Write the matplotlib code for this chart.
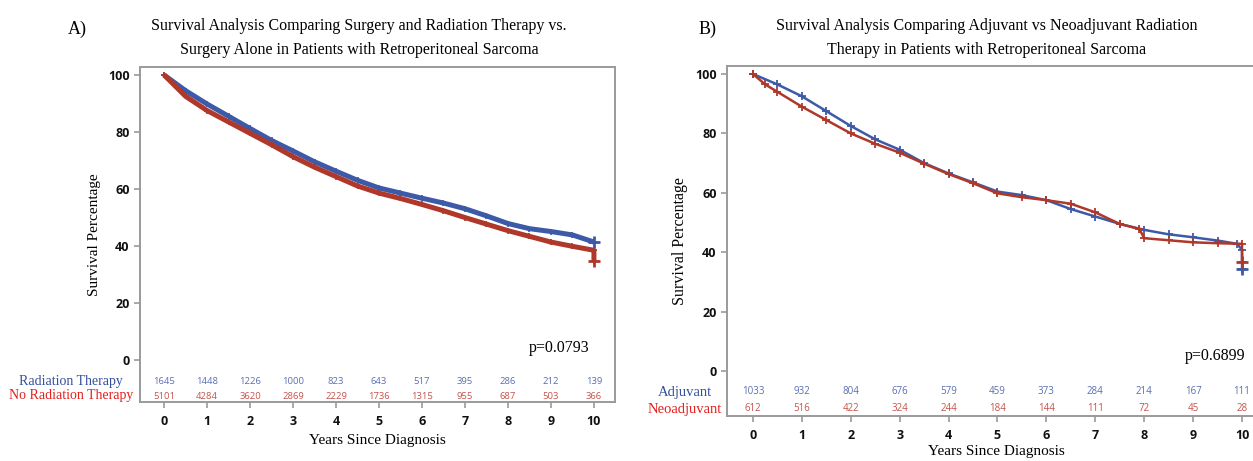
"""Kaplan-Meier curves for retroperitoneal sarcoma (two panels)."""

import matplotlib
matplotlib.use("Agg")
import matplotlib.pyplot as plt  # noqa: E402

W, H = 1253, 461

# ---- panel A data ----
years_a = [0, 0.5, 1, 1.5, 2, 2.5, 3, 3.5, 4, 4.5, 5, 5.5, 6, 6.5, 7, 7.5,
           8, 8.5, 9, 9.5, 10]
surv_rt = [100, 94.5, 89.8, 85.5, 81.2, 77.0, 73.3, 69.5, 66.2, 63.0, 60.3,
           58.5, 56.7, 55.0, 53.0, 50.5, 47.8, 46.0, 45.0, 43.8, 41.3]
surv_no_rt = [100, 92.5, 87.5, 83.5, 79.5, 75.5, 71.3, 67.6, 64.3, 61.0,
              58.5, 56.6, 54.5, 52.3, 49.9, 47.6, 45.3, 43.3, 41.3, 39.8, 38.4]
end_no_rt = 34.5
risk_rt = [1645, 1448, 1226, 1000, 823, 643, 517, 395, 286, 212, 139]
risk_no_rt = [5101, 4284, 3620, 2869, 2229, 1736, 1315, 955, 687, 503, 366]

# ---- panel B data ----
years_adj = [0, 0.5, 1, 1.5, 2, 2.5, 3, 3.5, 4, 4.5, 5, 5.5, 6, 6.5, 7, 7.5,
             8, 8.5, 9, 9.5, 9.9, 10]
surv_adj = [100, 96.5, 92.5, 87.5, 82.5, 78.0, 74.5, 70.0, 66.5, 63.5, 60.4,
            59.2, 57.5, 54.5, 52.0, 49.5, 47.5, 46.0, 45.0, 43.9, 42.8, 40.7]
end_adj = 34.2
years_neo = [0, 0.25, 0.5, 1, 1.5, 2, 2.5, 3, 3.5, 4, 4.5, 5, 5.5, 6, 6.5, 7,
             7.5, 7.9, 8, 8.5, 9, 9.5, 10]
surv_neo = [100, 96.5, 94.0, 89.0, 84.5, 80.0, 76.5, 73.5, 69.8, 66.3, 63.2,
            59.8, 58.5, 57.5, 56.3, 53.4, 49.5, 47.8, 44.7, 44.0, 43.3, 43.0,
            42.8]
end_neo = 36.8
risk_adj = [1033, 932, 804, 676, 579, 459, 373, 284, 214, 167, 111]
risk_neo = [612, 516, 422, 324, 244, 184, 144, 111, 72, 45, 28]

ticks_x = list(range(11))
ticks_y = [0, 20, 40, 60, 80, 100]

BLUE = "#3d5aa8"
RED = "#b0382a"
BLUE_NUM = "#5b6fb2"
RED_NUM = "#c4544c"
BLUE_LBL = "#34509c"
RED_LBL = "#e3201c"
FRAME = "#9a9a9a"
SERIF = "Liberation Serif"
SANS = "Open Sans"


def fx(px):
    return px / W


def fy(py):
    return 1 - py / H


def add_axes(left, top, right, bottom):
    return fig.add_axes([fx(left), fy(bottom), (right - left) / W,
                         (bottom - top) / H])


def style_axes(ax, xlim, ylim):
    ax.set_xlim(*xlim)
    ax.set_ylim(*ylim)
    ax.set_xticks(ticks_x)
    ax.set_yticks(ticks_y)
    for sp in ax.spines.values():
        sp.set_color(FRAME)
        sp.set_linewidth(1.4)
    ax.tick_params(axis="both", color=FRAME, width=1.2, length=4.5,
                   labelsize=9, labelcolor="#111111")
    ax.tick_params(axis="x", pad=5)
    ax.tick_params(axis="y", pad=3)
    for lab in ax.get_xticklabels() + ax.get_yticklabels():
        lab.set_fontfamily(SANS)
        lab.set_fontweight("bold")


def draw_curve(ax, t, s, end, color, lw, ms, mew):
    ax.plot(t + [t[-1]], s + [end], color=color, lw=lw, solid_capstyle="butt",
            marker="+", markersize=ms, markeredgewidth=mew, zorder=3)
    ax.plot([t[-1]], [end], marker="+", color=color, markersize=9,
            markeredgewidth=2, zorder=4)


def risk_table(ax, rows, ys, size):
    for counts, yv, col in zip(rows, ys, [BLUE_NUM, RED_NUM]):
        for xv, n in zip(ticks_x, counts):
            ax.text(xv, yv, str(n), ha="center", va="center", fontsize=size,
                    color=col, family=SANS)


fig = plt.figure(figsize=(W / 100, H / 100), dpi=100)

# ---------------- panel A ----------------
ax_a = add_axes(140, 67, 615, 402)
style_axes(ax_a, (-0.56, 10.49), (-14.9, 102.8))
draw_curve(ax_a, years_a, surv_rt, surv_rt[-1], BLUE, 3.6, 4, 1.2)
draw_curve(ax_a, years_a, surv_no_rt, end_no_rt, RED, 3.6, 4, 1.2)
risk_table(ax_a, [risk_rt, risk_no_rt], [-7.7, -13.0], 6.8)
ax_a.text(9.2, 4.2, "p=0.0793", ha="center", va="center", fontsize=11.5,
          family=SERIF)
ax_a.set_ylabel("Survival Percentage", family=SERIF, fontsize=11, labelpad=5)
ax_a.set_xlabel("Years Since Diagnosis", family=SERIF, fontsize=11,
                labelpad=4)
fig.text(fx(71), fy(381), "Radiation Therapy", ha="center", va="center",
         family=SERIF, fontsize=10, color=BLUE_LBL)
fig.text(fx(71), fy(396), "No Radiation Therapy", ha="center", va="center",
         family=SERIF, fontsize=10, color=RED_LBL)
fig.text(fx(68), fy(29), "A)", ha="left", va="center", family=SERIF,
         fontsize=13)
fig.text(fx(359), fy(26), "Survival Analysis Comparing Surgery and Radiation "
         "Therapy vs.", ha="center", va="center", family=SERIF, fontsize=11.5)
fig.text(fx(359), fy(50), "Surgery Alone in Patients with Retroperitoneal "
         "Sarcoma", ha="center", va="center", family=SERIF, fontsize=11.5)

# ---------------- panel B ----------------
ax_b = add_axes(727, 66, 1266, 416)
style_axes(ax_b, (-0.53, 10.49), (-15.2, 102.7))
draw_curve(ax_b, years_adj, surv_adj, end_adj, BLUE, 1.8, 6, 1.3)
draw_curve(ax_b, years_neo, surv_neo, end_neo, RED, 1.8, 6, 1.3)
risk_table(ax_b, [risk_adj, risk_neo], [-7.1, -12.8], 7)
ax_b.text(9.45, 5.0, "p=0.6899", ha="center", va="center", fontsize=11.5,
          family=SERIF)
ax_b.set_ylabel("Survival Percentage", family=SERIF, fontsize=11.5,
                labelpad=5)
ax_b.set_xlabel("Years Since Diagnosis", family=SERIF, fontsize=11,
                labelpad=2)
fig.text(fx(685), fy(392), "Adjuvant", ha="center", va="center",
         family=SERIF, fontsize=10.5, color=BLUE_LBL)
fig.text(fx(685), fy(409), "Neoadjuvant", ha="center", va="center",
         family=SERIF, fontsize=10.5, color=RED_LBL)
fig.text(fx(699), fy(29), "B)", ha="left", va="center", family=SERIF,
         fontsize=13)
fig.text(fx(987), fy(26), "Survival Analysis Comparing Adjuvant vs "
         "Neoadjuvant Radiation", ha="center", va="center", family=SERIF,
         fontsize=11.5)
fig.text(fx(987), fy(50), "Therapy in Patients with Retroperitoneal Sarcoma",
         ha="center", va="center", family=SERIF, fontsize=11.5)

fig.savefig("out.png", dpi=100)
